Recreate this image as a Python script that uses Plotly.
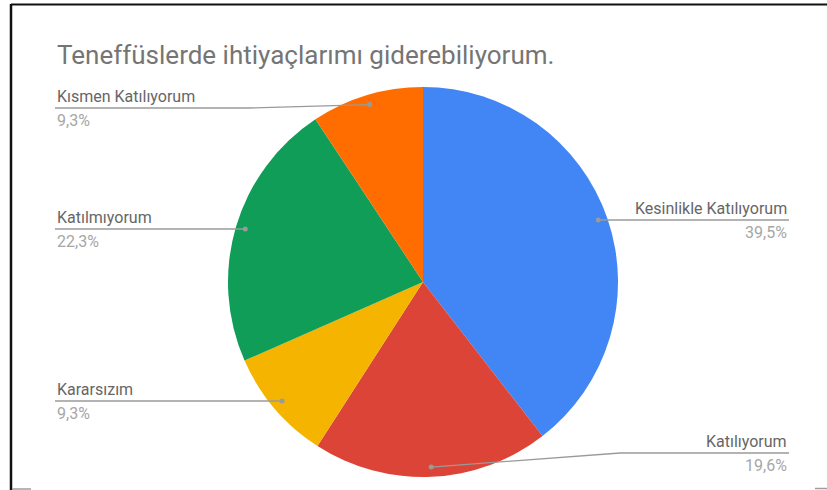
import math

import plotly.graph_objects as go

# chart data
labels = ["Kesinlikle Katılıyorum", "Katılıyorum", "Kararsızım", "Katılmıyorum", "Kısmen Katılıyorum"]
values = [39.5, 19.6, 9.3, 22.3, 9.3]
colors = ["#4285F4", "#DB4437", "#F4B400", "#0F9D58", "#FF6D01"]
title = "Teneffüslerde ihtiyaçlarımı giderebiliyorum."

W, H = 827, 490
cx, cy, R = 423, 282, 195

# label placement (pixel layout): side, y of the underline, x where the leader bends
label_side = ["right", "right", "left", "left", "left"]
label_line_y = [220, 453, 401, 229, 108]
label_bend_x = [None, 620, None, None, 250]
RIGHT_X, LEFT_X = 789, 55
LINE_COLOR = "#9a9a9a"

fig = go.Figure()

fig.add_trace(go.Pie(
    labels=labels,
    values=values,
    marker=dict(colors=colors, line=dict(width=0)),
    sort=False,
    direction="clockwise",
    rotation=0,
    textinfo="none",
    hoverinfo="label+percent",
    showlegend=False,
    domain=dict(x=[(cx - R) / W, (cx + R) / W], y=[1 - (cy + R) / H, 1 - (cy - R) / H]),
))

total = sum(values)
start = 0.0
annotations = []
shapes = []
for lab, val, side, ly, bx in zip(labels, values, label_side, label_line_y, label_bend_x):
    mid = (start + val / 2) / total * 2 * math.pi
    start += val
    dx = cx + 0.95 * R * math.sin(mid)
    dy = cy - 0.95 * R * math.cos(mid)
    end_x = RIGHT_X if side == "right" else LEFT_X
    if bx:
        path = f"M{dx},{dy} L{bx},{ly} L{end_x},{ly}"
    else:
        dy = ly
        path = f"M{dx},{ly} L{end_x},{ly}"
    shapes.append(dict(type="path", xref="x", yref="y", path=path, layer="above",
                       line=dict(color=LINE_COLOR, width=1.3)))
    shapes.append(dict(type="circle", xref="x", yref="y", x0=dx - 2.5, x1=dx + 2.5,
                       y0=dy - 2.5, y1=dy + 2.5, layer="above",
                       fillcolor=LINE_COLOR, line=dict(width=0)))
    pct = f"{val / total * 100:.1f}%".replace(".", ",")
    anchor = "right" if side == "right" else "left"
    annotations.append(dict(x=end_x, y=ly - 12, text=lab, showarrow=False, xanchor=anchor,
                            yanchor="middle", font=dict(size=16, color="#666666")))
    annotations.append(dict(x=end_x, y=ly + 12, text=pct, showarrow=False, xanchor=anchor,
                            yanchor="middle", font=dict(size=16, color="#a6a6a6")))

annotations.append(dict(x=55, y=55, text=title, showarrow=False, xanchor="left", yanchor="middle",
                        font=dict(size=26, color="#757575")))

# screenshot frame
shapes += [
    dict(type="line", xref="x", yref="y", x0=11, x1=W, y0=4.5, y1=4.5, line=dict(color="#111111", width=2)),
    dict(type="line", xref="x", yref="y", x0=11, x1=11, y0=4, y1=H, line=dict(color="#111111", width=2.5)),
    dict(type="line", xref="x", yref="y", x0=12, x1=31, y0=489, y1=489, line=dict(color="#9e9e9e", width=1.5)),
    dict(type="line", xref="x", yref="y", x0=815, x1=W, y0=488.5, y1=488.5, line=dict(color="#9e9e9e", width=1.5)),
]

fig.update_layout(
    width=W, height=H,
    margin=dict(l=0, r=0, t=0, b=0),
    paper_bgcolor="white", plot_bgcolor="rgba(0,0,0,0)",
    font=dict(family="Roboto, Arial, sans-serif"),
    xaxis=dict(range=[0, W], visible=False, fixedrange=True),
    yaxis=dict(range=[H, 0], visible=False, fixedrange=True),
    annotations=annotations,
    shapes=shapes,
)

fig.write_html("out.html", config={"displayModeBar": False},
               post_script="document.body.style.margin='0';")
